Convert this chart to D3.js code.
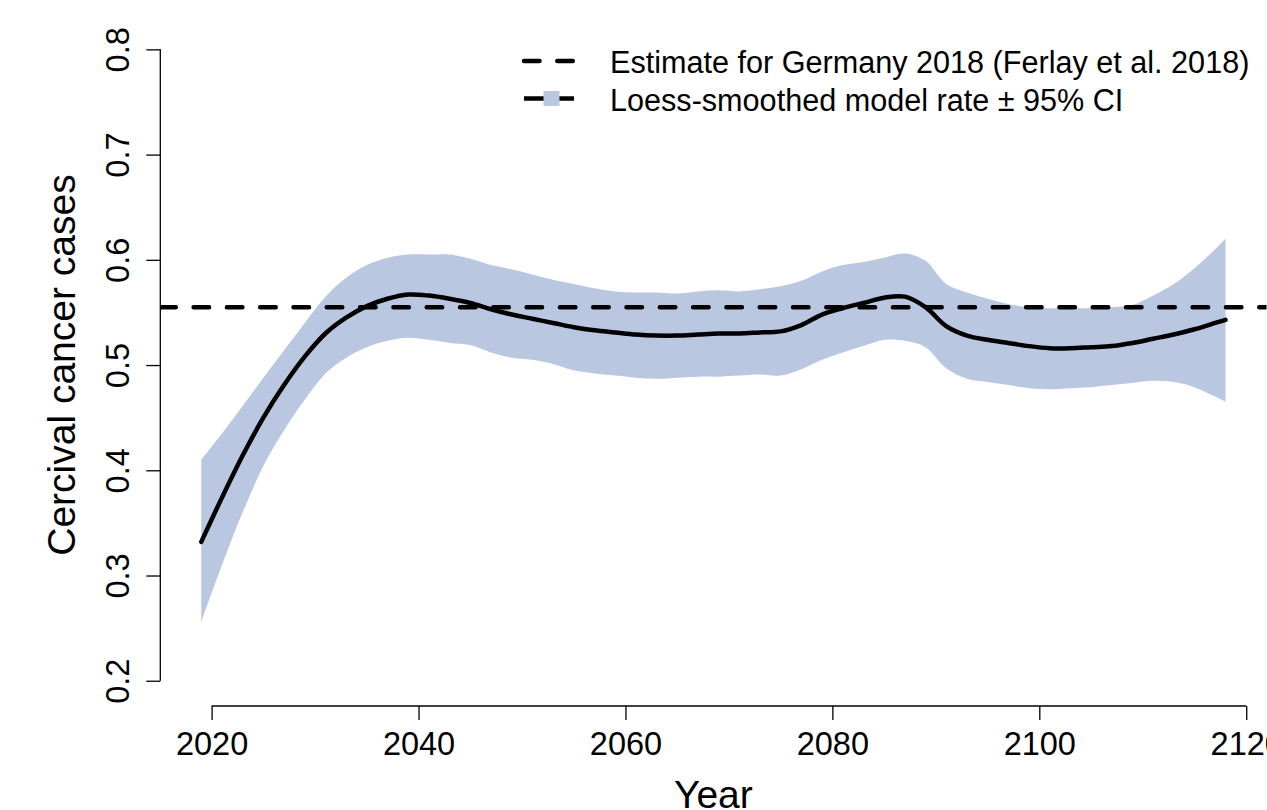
<!DOCTYPE html>
<html>
<head>
<meta charset="utf-8">
<script src="https://cdn.jsdelivr.net/npm/d3@7"></script>
<style>
  html, body { margin: 0; padding: 0; background: #fff; }
  svg { display: block; font-family: "Liberation Sans", Arial, Helvetica, sans-serif; }
</style>
</head>
<body>
<svg id="chart" width="1267" height="810"></svg>
<script>
// Projected cervical cancer cases (model rate, loess-smoothed) with 95% CI
const years = [2019, 2021, 2023, 2025, 2027, 2029, 2031, 2033, 2035, 2037, 2039,
  2041, 2043, 2045, 2047, 2049, 2051, 2053, 2055, 2057, 2059,
  2061, 2063, 2065, 2067, 2069, 2071, 2073, 2075, 2077, 2079,
  2081, 2083, 2085, 2087, 2089, 2091, 2093, 2095, 2097, 2099,
  2101, 2103, 2105, 2107, 2109, 2111, 2113, 2115, 2117, 2118];

const rate = [0.332, 0.374, 0.414, 0.450, 0.481, 0.508, 0.530, 0.545, 0.556, 0.563, 0.567,
  0.566, 0.563, 0.559, 0.553, 0.548, 0.544, 0.540, 0.536, 0.533, 0.531,
  0.529, 0.528, 0.528, 0.529, 0.530, 0.530, 0.531, 0.532, 0.538, 0.548,
  0.554, 0.559, 0.564, 0.565, 0.555, 0.537, 0.528, 0.524, 0.521, 0.518,
  0.516, 0.516, 0.517, 0.518, 0.521, 0.525, 0.529, 0.534, 0.540, 0.543];

const upper = [0.410, 0.435, 0.461, 0.488, 0.514, 0.540, 0.565, 0.583, 0.595, 0.602, 0.605,
  0.605, 0.605, 0.601, 0.595, 0.591, 0.586, 0.581, 0.577, 0.573, 0.570,
  0.569, 0.569, 0.568, 0.570, 0.571, 0.570, 0.572, 0.575, 0.580, 0.589,
  0.595, 0.598, 0.602, 0.606, 0.599, 0.577, 0.569, 0.563, 0.558, 0.555,
  0.554, 0.554, 0.554, 0.555, 0.557, 0.566, 0.577, 0.592, 0.610, 0.620];

const lower = [0.256, 0.310, 0.360, 0.404, 0.438, 0.467, 0.492, 0.507, 0.517, 0.523, 0.526,
  0.524, 0.521, 0.519, 0.512, 0.507, 0.505, 0.501, 0.495, 0.492, 0.490,
  0.488, 0.487, 0.488, 0.489, 0.489, 0.490, 0.491, 0.490, 0.496, 0.505,
  0.512, 0.518, 0.524, 0.523, 0.517, 0.497, 0.487, 0.484, 0.481, 0.478,
  0.477, 0.478, 0.479, 0.481, 0.483, 0.485, 0.484, 0.479, 0.470, 0.465];

const germanyEstimate = 0.555;

const xTicks = [2020, 2040, 2060, 2080, 2100, 2120];
const yTicks = [0.2, 0.3, 0.4, 0.5, 0.6, 0.7, 0.8];

const legendLabels = [
  "Estimate for Germany 2018 (Ferlay et al. 2018)",
  "Loess-smoothed model rate \u00b1 95% CI"
];

const bandColor = "#bac7e1";

const svg = d3.select("#chart");

// plot region (data range padded by 4% on each side)
const x = d3.scaleLinear().domain([2015.04, 2121.96]).range([160.3, 1266.5]);
const y = d3.scaleLinear().domain([0.176, 0.824]).range([706, 24.1]);

svg.append("defs").append("clipPath").attr("id", "plotClip")
  .append("rect")
  .attr("x", x.range()[0]).attr("y", y.range()[1])
  .attr("width", x.range()[1] - x.range()[0])
  .attr("height", y.range()[0] - y.range()[1]);

const data = years.map((yr, i) => ({ yr, m: rate[i], lo: lower[i], hi: upper[i] }));

const plot = svg.append("g").attr("clip-path", "url(#plotClip)");

// confidence band
plot.append("path")
  .datum(data)
  .attr("fill", bandColor)
  .attr("d", d3.area()
    .x(d => x(d.yr))
    .y0(d => y(d.lo))
    .y1(d => y(d.hi))
    .curve(d3.curveCatmullRom.alpha(0.5)));

// reference estimate
plot.append("line")
  .attr("x1", x.range()[0]).attr("x2", x.range()[1])
  .attr("y1", y(germanyEstimate)).attr("y2", y(germanyEstimate))
  .attr("stroke", "#000")
  .attr("stroke-width", 4.5)
  .attr("stroke-linecap", "round")
  .attr("stroke-dasharray", "15.5,17.8");

// smoothed model rate
plot.append("path")
  .datum(data)
  .attr("fill", "none")
  .attr("stroke", "#000")
  .attr("stroke-width", 4.5)
  .attr("stroke-linejoin", "round")
  .attr("stroke-linecap", "round")
  .attr("d", d3.line()
    .x(d => x(d.yr))
    .y(d => y(d.m))
    .curve(d3.curveCatmullRom.alpha(0.5)));

// x axis
const xAxis = svg.append("g")
  .attr("transform", `translate(0,${y.range()[0]})`)
  .call(d3.axisBottom(x).tickValues(xTicks).tickFormat(d3.format("d")).tickSize(14).tickSizeOuter(0).tickPadding(0));
xAxis.select(".domain").remove();
xAxis.append("line")
  .attr("x1", x(xTicks[0])).attr("x2", x(xTicks[xTicks.length - 1]))
  .attr("stroke", "#000").attr("stroke-width", 1.3);
xAxis.selectAll(".tick line").attr("stroke", "#000").attr("stroke-width", 1.3);
xAxis.selectAll(".tick text")
  .attr("fill", "#000")
  .attr("font-size", "32.5px")
  .attr("y", 49)
  .attr("dy", null);

// y axis
const yAxis = svg.append("g")
  .attr("transform", `translate(${x.range()[0]},0)`)
  .call(d3.axisLeft(y).tickValues(yTicks).tickFormat(d3.format(".1f")).tickSize(14).tickSizeOuter(0));
yAxis.select(".domain").remove();
yAxis.append("line")
  .attr("y1", y(yTicks[0])).attr("y2", y(yTicks[yTicks.length - 1]))
  .attr("stroke", "#000").attr("stroke-width", 1.3);
yAxis.selectAll(".tick line").attr("stroke", "#000").attr("stroke-width", 1.3);
yAxis.selectAll(".tick text")
  .attr("fill", "#000")
  .attr("font-size", "32.5px")
  .attr("x", null).attr("dy", null)
  .attr("text-anchor", "middle")
  .attr("transform", "translate(-31,0) rotate(-90)");

// axis titles
svg.append("text")
  .attr("x", x((2015.04 + 2121.96) / 2))
  .attr("y", 808)
  .attr("text-anchor", "middle")
  .attr("font-size", "39px")
  .text("Year");

svg.append("text")
  .attr("transform", `translate(75,${(y(0.2) + y(0.8)) / 2}) rotate(-90)`)
  .attr("text-anchor", "middle")
  .attr("font-size", "39px")
  .text("Cercival cancer cases");

// legend
const legend = svg.append("g");
const ly = [61, 98.5];

legend.append("line")
  .attr("x1", 524).attr("x2", 574).attr("y1", ly[0]).attr("y2", ly[0])
  .attr("stroke", "#000").attr("stroke-width", 4.5)
  .attr("stroke-linecap", "round")
  .attr("stroke-dasharray", "15.5,17.8");

legend.append("line")
  .attr("x1", 524).attr("x2", 574).attr("y1", ly[1]).attr("y2", ly[1])
  .attr("stroke", "#000").attr("stroke-width", 4.5);
legend.append("rect")
  .attr("x", 543.5).attr("y", ly[1] - 7.5)
  .attr("width", 16).attr("height", 15)
  .attr("fill", bandColor);

legend.selectAll("text.lab")
  .data(legendLabels)
  .join("text")
  .attr("class", "lab")
  .attr("x", 610)
  .attr("y", (d, i) => ly[i] + 12)
  .attr("font-size", "30.6px")
  .text(d => d);
</script>
</body>
</html>
